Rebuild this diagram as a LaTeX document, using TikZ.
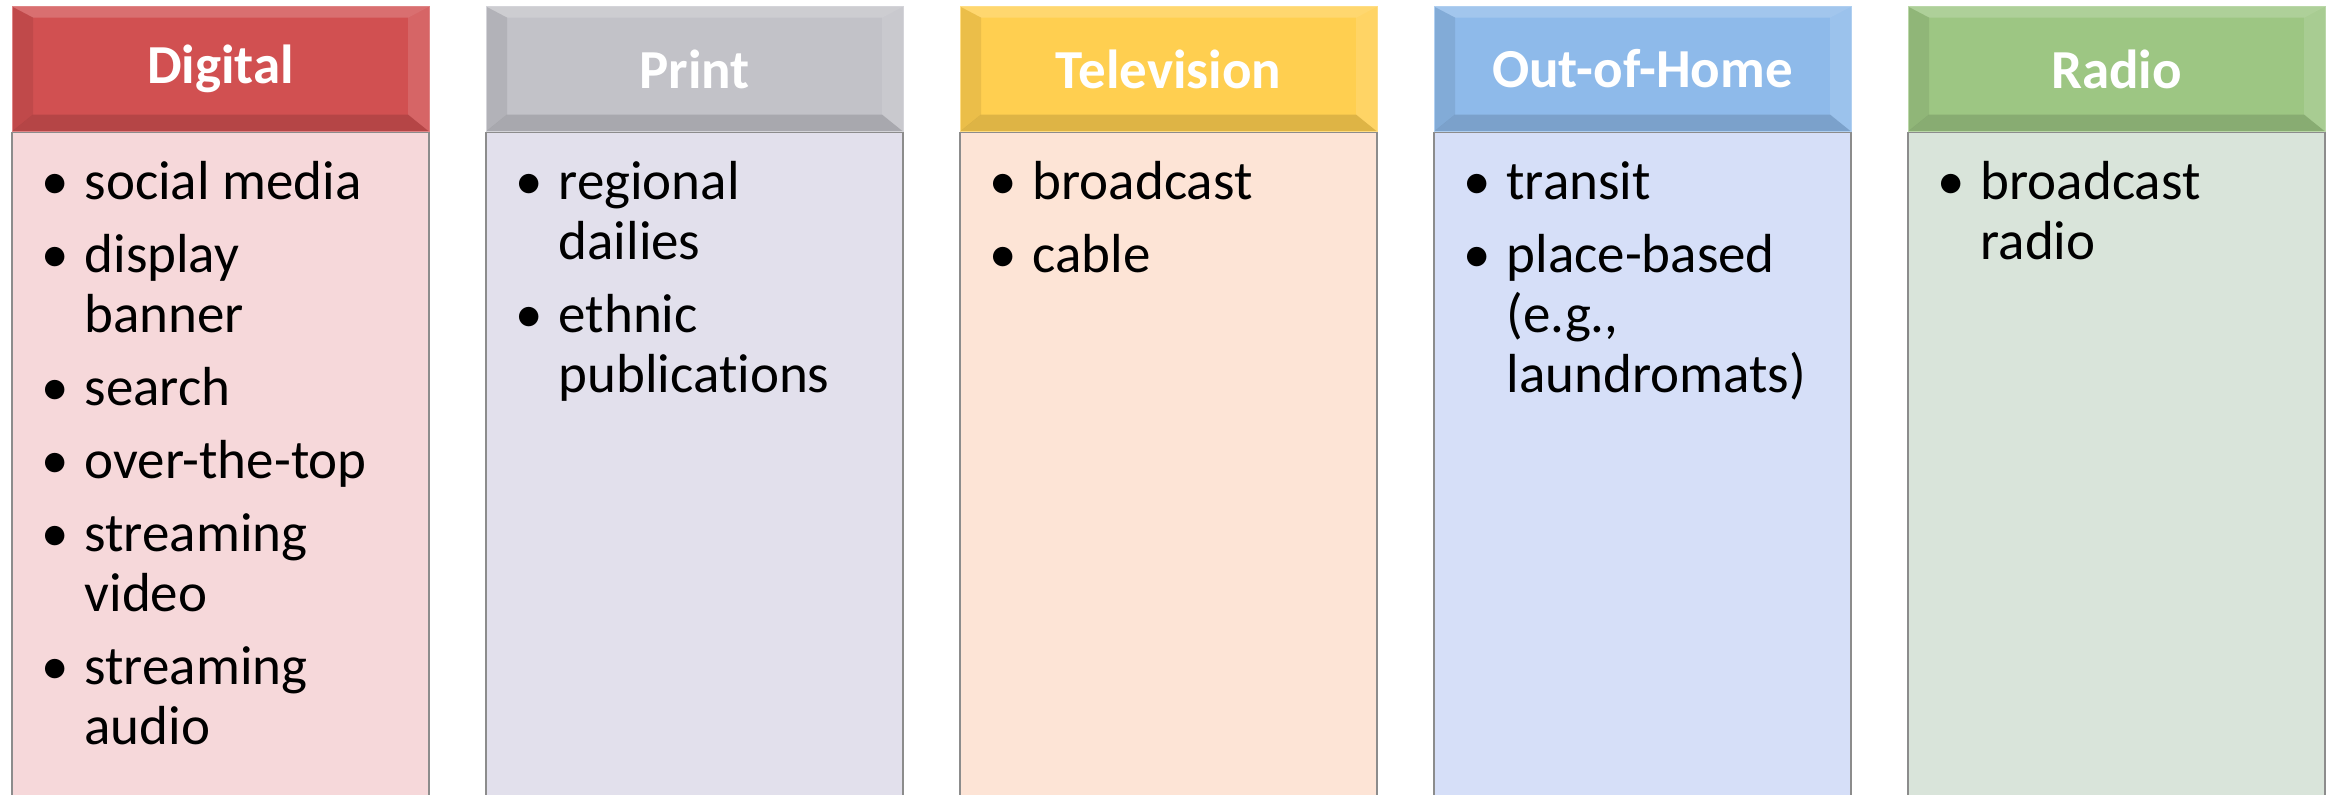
\documentclass[tikz,border=0pt]{standalone}
\usepackage{fontspec}
\setmainfont[Ligatures=NoCommon]{Carlito}
\usetikzlibrary{calc}

\definecolor{digihead}{RGB}{209,80,81}
\definecolor{digibody}{RGB}{246,216,218}
\definecolor{prinhead}{RGB}{194,194,200}
\definecolor{prinbody}{RGB}{226,224,236}
\definecolor{telehead}{RGB}{255,207,80}
\definecolor{telebody}{RGB}{253,228,214}
\definecolor{oohhead}{RGB}{142,186,234}
\definecolor{oohbody}{RGB}{214,223,248}
\definecolor{radihead}{RGB}{157,198,131}
\definecolor{radibody}{RGB}{217,228,218}

\newcommand{\bul}{\makebox[43pt][l]{•}}

\begin{document}
\begin{tikzpicture}
                [x=1pt, y=1pt,
                hsty/.style={rectangle, fill=#1, draw=#1!70!white, line width=1pt, text=white,
                    minimum width=417pt, minimum height=125pt, inner sep=0pt,
                    font=\bfseries\fontsize{55}{60}\selectfont,
                    path picture={
                        \fill[white, opacity=0.18] (path picture bounding box.north west) -- (path picture bounding box.north east)
                            -- ([xshift=-21pt, yshift=-11pt]path picture bounding box.north east) -- ([xshift=21pt, yshift=-11pt]path picture bounding box.north west) -- cycle;
                        \fill[white, opacity=0.12] (path picture bounding box.north east) -- (path picture bounding box.south east)
                            -- ([xshift=-21pt, yshift=17pt]path picture bounding box.south east) -- ([xshift=-21pt, yshift=-11pt]path picture bounding box.north east) -- cycle;
                        \fill[black, opacity=0.08] (path picture bounding box.north west) -- (path picture bounding box.south west)
                            -- ([xshift=21pt, yshift=17pt]path picture bounding box.south west) -- ([xshift=21pt, yshift=-11pt]path picture bounding box.north west) -- cycle;
                        \fill[black, opacity=0.13] (path picture bounding box.south west) -- (path picture bounding box.south east)
                            -- ([xshift=-21pt, yshift=17pt]path picture bounding box.south east) -- ([xshift=21pt, yshift=17pt]path picture bounding box.south west) -- cycle;
                    }},
                bsty/.style={rectangle, fill=#1, draw=black!45, line width=1.2pt,
                    minimum width=417pt, minimum height=700pt, inner sep=0pt, anchor=north},
                lsty/.style={anchor=north west, inner sep=0pt, font=\fontsize{55}{60}\selectfont}]
                \useasboundingbox (0,0) rectangle (2338,-795);
                \clip (0,0) rectangle (2338,-795);
                % headers
                \node[hsty=digihead] (digital) at (220.5,-69)  {Digital};
                \node[hsty=prinhead] (print)   at (694.5,-69)  {Print};
                \node[hsty=telehead] (tv)      at (1168.5,-69) {Television};
                \node[hsty=oohhead]  (ooh)     at (1642.5,-69) {Out-of-Home};
                \node[hsty=radihead] (radio)   at (2116.5,-69) {Radio};
                % bodies
                \node[bsty=digibody] (digitalbody) at (digital.south) {};
                \node[bsty=prinbody] (printbody)   at (print.south)   {};
                \node[bsty=telebody] (tvbody)      at (tv.south)      {};
                \node[bsty=oohbody]  (oohbody)     at (ooh.south)     {};
                \node[bsty=radibody] (radiobody)   at (radio.south)   {};
                % lists
                \node[lsty] (digitallist) at ($(digitalbody.north west)+(30,-25)$) {%
                    \begin{tabular}{@{}l@{}l@{}}
                    \bul & social media\\[13pt]
                    \bul & display\\ & banner\\[13pt]
                    \bul & search\\[13pt]
                    \bul & over-the-top\\[13pt]
                    \bul & streaming\\ & video\\[13pt]
                    \bul & streaming\\ & audio
                    \end{tabular}};
                \node[lsty] (printlist) at ($(printbody.north west)+(30,-25)$) {%
                    \begin{tabular}{@{}l@{}l@{}}
                    \bul & regional\\ & dailies\\[13pt]
                    \bul & ethnic\\ & publications
                    \end{tabular}};
                \node[lsty] (tvlist) at ($(tvbody.north west)+(30,-25)$) {%
                    \begin{tabular}{@{}l@{}l@{}}
                    \bul & broadcast\\[13pt]
                    \bul & cable
                    \end{tabular}};
                \node[lsty] (oohlist) at ($(oohbody.north west)+(30,-25)$) {%
                    \begin{tabular}{@{}l@{}l@{}}
                    \bul & transit\\[13pt]
                    \bul & place-based\\ & (e.g.,\\ & laundromats)
                    \end{tabular}};
                \node[lsty] (radiolist) at ($(radiobody.north west)+(30,-25)$) {%
                    \begin{tabular}{@{}l@{}l@{}}
                    \bul & broadcast\\ & radio
                    \end{tabular}};
            \end{tikzpicture}
\end{document}
